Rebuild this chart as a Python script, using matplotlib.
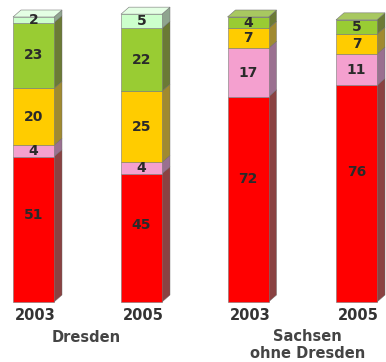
import numpy as np
import matplotlib
matplotlib.use("Agg")
import matplotlib.pyplot as plt
from matplotlib.patches import Polygon

# data: share (%) per category, bottom -> top
years = ["2003", "2005", "2003", "2005"]
groups = ["Dresden", "Sachsen\nohne Dresden"]
red = [51, 45, 72, 76]
pink = [4, 4, 17, 11]
yellow = [20, 25, 7, 7]
green = [23, 22, 4, 5]
mint = [2, 5, 0, 0]

series = [red, pink, yellow, green, mint]
front_colors = ["#ff0000", "#f4a0cf", "#ffcc00", "#99cc33", "#ccffcc"]
side_colors = ["#8a4242", "#9a7090", "#a08a30", "#6b7a35", "#8fa58f"]
top_colors = ["#ff6060", "#f8c8e4", "#ffe070", "#a8c860", "#e4ffe4"]
label_frac = [0.6, 0.5, 0.5, 0.5, 0.5]

# layout in pixels (x) / data units (y)
W, H = 386, 362
px_per_unit = 2.85
y_bottom_px = 302
xpos = [33.5, 141.5, 248, 356.5]
bar_w = 41
dx = 8                      # depth in pixels
dy = 7 / px_per_unit        # depth in data units

fig = plt.figure(figsize=(W / 100, H / 100), dpi=100)
ax = fig.add_axes([0, 0, 1, 1])
ax.set_xlim(0, W)
ax.set_ylim(-(H - y_bottom_px) / px_per_unit, 100 + 17 / px_per_unit)
ax.axis("off")

bottoms = np.zeros(len(xpos))
for i, vals in enumerate(series):
    vals = np.array(vals, dtype=float)
    ax.bar(xpos, vals, bar_w, bottom=bottoms, color=front_colors[i],
           edgecolor="#777777", linewidth=0.4, zorder=2)
    for j, x in enumerate(xpos):
        if vals[j] <= 0:
            continue
        x1 = x + bar_w / 2
        y0, y1 = bottoms[j], bottoms[j] + vals[j]
        ax.add_patch(Polygon([(x1, y0), (x1 + dx, y0 + dy), (x1 + dx, y1 + dy), (x1, y1)],
                             closed=True, facecolor=side_colors[i],
                             edgecolor="#666666", linewidth=0.3, zorder=1))
        ax.text(x, y0 + vals[j] * label_frac[i], str(int(vals[j])), ha="center",
                va="center", fontsize=10, fontweight="bold", color="#2a2a2a", zorder=3)
    bottoms = bottoms + vals

# top faces
for j, x in enumerate(xpos):
    top_i = max(k for k in range(len(series)) if series[k][j] > 0)
    x0, x1, yt = x - bar_w / 2, x + bar_w / 2, bottoms[j]
    ax.add_patch(Polygon([(x0, yt), (x1, yt), (x1 + dx, yt + dy), (x0 + dx, yt + dy)],
                         closed=True, facecolor=top_colors[top_i],
                         edgecolor="#777777", linewidth=0.4, zorder=1))

# category labels
for x, yr in zip(xpos, years):
    ax.text(x + 2, -14 / px_per_unit, yr, ha="center", va="center",
            fontsize=10.5, fontweight="bold", color="#333333")
ax.text((xpos[0] + xpos[1]) / 2 - 1, -35 / px_per_unit, groups[0], ha="center",
        va="center", fontsize=10.5, fontweight="bold", color="#444444")
ax.text((xpos[2] + xpos[3]) / 2 + 5, -27 / px_per_unit, groups[1], ha="center",
        va="top", fontsize=10.5, fontweight="bold", color="#444444", linespacing=1.15)

fig.savefig("out.png", dpi=100)
